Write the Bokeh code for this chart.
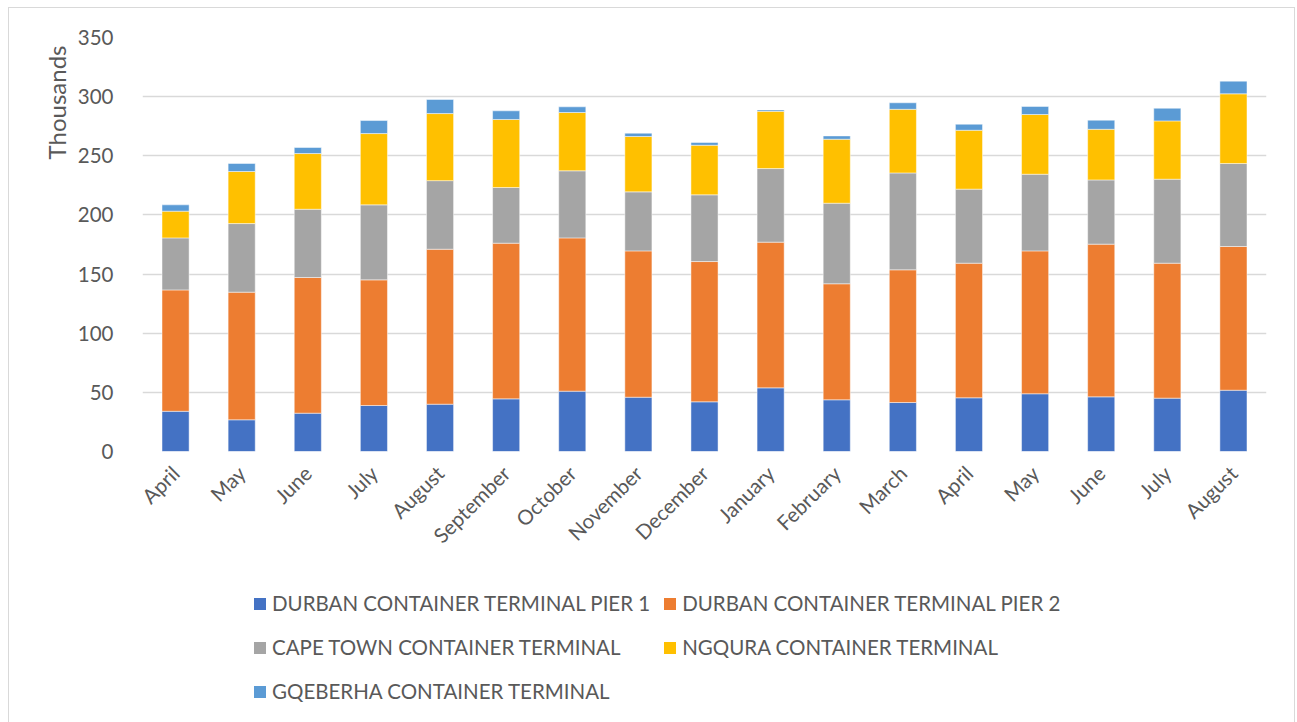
import math
from bokeh.plotting import figure
from bokeh.layouts import column
from bokeh.models import (ColumnDataSource, Legend, LegendItem, FixedTicker, Range1d,
                          Title)
from bokeh.embed import file_html
from bokeh.resources import INLINE

months = ["April", "May", "June", "July", "August", "September", "October",
          "November", "December", "January", "February", "March", "April",
          "May", "June", "July", "August"]

durban_pier1 = [34.0, 26.8, 32.4, 38.9, 40.0, 44.5, 51.0, 45.9, 42.0, 53.8,
                43.7, 41.4, 45.4, 48.8, 46.2, 45.1, 51.8]
durban_pier2 = [102.6, 107.9, 114.7, 106.2, 131.0, 131.6, 129.6, 123.7, 118.6,
                123.2, 98.1, 112.2, 113.8, 120.8, 129.1, 114.1, 121.5]
cape_town = [44.0, 58.0, 57.7, 63.4, 58.0, 47.1, 56.7, 49.9, 56.4, 62.2,
             68.1, 81.9, 62.6, 64.8, 54.3, 71.0, 70.2]
ngqura = [22.6, 44.0, 47.1, 60.3, 56.7, 57.5, 49.3, 46.8, 41.9, 48.4,
          54.1, 53.8, 49.8, 50.5, 42.8, 49.3, 58.9]
gqeberha = [5.3, 6.8, 5.1, 11.0, 11.9, 7.3, 4.8, 2.8, 2.3, 1.2,
            2.8, 5.5, 5.1, 6.8, 7.7, 10.7, 10.7]

series_names = ["DURBAN CONTAINER TERMINAL PIER 1", "DURBAN CONTAINER TERMINAL PIER 2",
                "CAPE TOWN CONTAINER TERMINAL", "NGQURA CONTAINER TERMINAL",
                "GQEBERHA CONTAINER TERMINAL"]
colors = ["#4472C4", "#ED7D31", "#A5A5A5", "#FFC000", "#5B9BD5"]
keys = ["d1", "d2", "ct", "ng", "gq"]
y_ticks = [0, 50, 100, 150, 200, 250, 300, 350]

x = list(range(len(months)))
source = ColumnDataSource(dict(x=x, d1=durban_pier1, d2=durban_pier2, ct=cape_town,
                               ng=ngqura, gq=gqeberha))

FONT = "Lato"
TXT = "#595959"
FS = "20.5px"
W = 1285

p = figure(width=W, height=555, output_backend="svg", toolbar_location=None,
           x_range=Range1d(-0.5, len(months) - 0.5), y_range=Range1d(0, 350),
           min_border_left=133, min_border_right=W - 133 - 1124, min_border_top=29,
           min_border_bottom=112)
p.outline_line_color = None
p.background_fill_color = "white"
p.border_fill_color = "white"

rs = p.vbar_stack(keys, x="x", width=0.41, color=colors, source=source,
                  line_color="white", line_width=0.8, line_alpha=0.6)

p.xgrid.grid_line_color = None
p.ygrid.grid_line_color = "#d9d9d9"
p.ygrid.grid_line_width = 1.3

p.yaxis.ticker = FixedTicker(ticks=y_ticks)
p.yaxis.major_label_standoff = 23

p.xaxis.ticker = FixedTicker(ticks=x)
p.xaxis.major_label_overrides = {i: m for i, m in enumerate(months)}
p.xaxis.major_label_orientation = math.pi / 4
p.xaxis.major_label_standoff = 12

for ax in (p.xaxis, p.yaxis):
    ax.axis_line_color = None
    ax.major_tick_line_color = None
    ax.minor_tick_line_color = None
    ax.major_label_text_font = FONT
    ax.major_label_text_font_size = FS
    ax.major_label_text_color = TXT

ytitle = Title(text="Thousands", align="right", text_font=FONT, text_font_size="24px",
               text_color=TXT, text_font_style="normal", standoff=7, offset=8)
p.add_layout(ytitle, "left")

# legend panel (frame aligned with the chart's frame by the column layout)
lg = figure(width=W, height=159, output_backend="svg", toolbar_location=None,
            x_range=Range1d(0, 1), y_range=Range1d(0, 1), min_border=0,
            x_axis_location=None, y_axis_location=None)
lg.outline_line_color = None
lg.xgrid.visible = False
lg.ygrid.visible = False
# legend swatches: zero-height placeholders that only feed the legend
markers = [lg.vbar(x=[0.5], bottom=[0], top=[0], width=0.5, fill_color=c,
                   line_color=c, line_alpha=0) for c in colors]

legend = Legend(items=[LegendItem(label=n, renderers=[r], index=0)
                       for n, r in zip(series_names, markers)],
                orientation="horizontal", ncols=2, location=(110, 15),
                label_text_font=FONT, label_text_font_size=FS, label_text_color=TXT,
                glyph_width=15, glyph_height=15, label_standoff=5,
                label_height=32, spacing=12, padding=0, margin=0,
                border_line_color=None, background_fill_alpha=0)
lg.add_layout(legend, "center")

layout = column(p, lg, margin=(7, 0, 0, 8), spacing=0,
                styles={"border": "1px solid #d9d9d9", "background-color": "white"})

open("out.html", "w").write(file_html(layout, INLINE))
